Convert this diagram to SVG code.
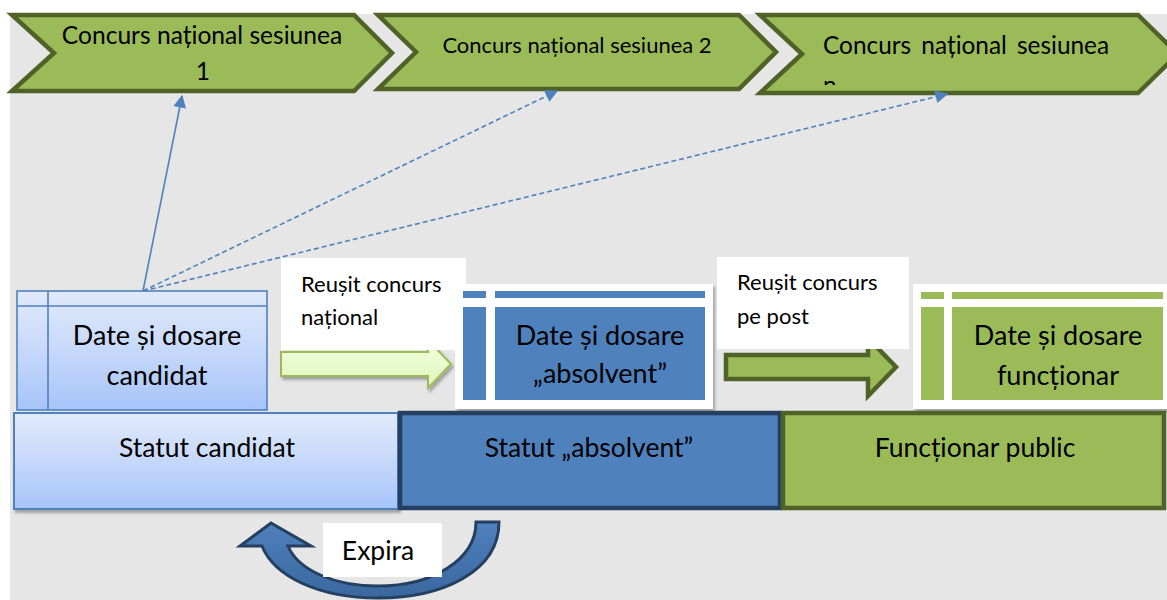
<svg xmlns="http://www.w3.org/2000/svg" width="1167" height="600" viewBox="0 0 1167 600">
  <style>
    .t { font-family: Lato, "Liberation Sans", sans-serif; fill: #000; }
    .chev { fill: #9bbb59; stroke: #4f6228; stroke-width: 4.5; stroke-linejoin: miter; }
    .link { stroke: #4f81bd; stroke-width: 1.6; fill: none; }
    .dash { stroke-dasharray: 5 3; }
    .label { fill: #ffffff; }
    .blue { fill: #4f81bd; }
    .green { fill: #9bbb59; }
  </style>
  <defs>
    <linearGradient id="paleBlue" x1="0" y1="0" x2="0" y2="1">
      <stop offset="0" stop-color="#e1eafb"/>
      <stop offset="0.5" stop-color="#c6d8fa"/>
      <stop offset="1" stop-color="#a6c4f9"/>
    </linearGradient>
    <linearGradient id="paleGreen" x1="0" y1="0" x2="0" y2="1">
      <stop offset="0" stop-color="#f3ffe3"/>
      <stop offset="1" stop-color="#dff5b8"/>
    </linearGradient>
    <linearGradient id="curl" x1="0" y1="0" x2="0" y2="1">
      <stop offset="0" stop-color="#4f81bd"/>
      <stop offset="1" stop-color="#3a679e"/>
    </linearGradient>
    <filter id="shadow" x="-10%" y="-10%" width="130%" height="130%">
      <feDropShadow dx="2" dy="3" stdDeviation="1.5" flood-color="#000" flood-opacity="0.3"/>
    </filter>
    <marker id="head" viewBox="0 0 10 10" refX="9" refY="5" markerWidth="8.5" markerHeight="8" orient="auto" markerUnits="strokeWidth">
      <path d="M0,0 L10,5 L0,10 Z" fill="#4f81bd"/>
    </marker>
    <clipPath id="clip3">
      <rect x="760" y="14" width="420" height="71"/>
    </clipPath>
  </defs>

  <!-- canvas -->
  <rect x="0" y="0" width="1167" height="600" fill="#ffffff"/>
  <rect x="10" y="14" width="1157" height="586" fill="#e6e6e6"/>

  <!-- session chevrons -->
  <g id="session1">
    <polygon class="chev" points="12,15 354,15 392,53 354,91 12,91 54,53"/>
    <text class="t" x="202" y="44" font-size="24.6" text-anchor="middle">Concurs național sesiunea</text>
    <text class="t" x="203" y="80" font-size="24.6" text-anchor="middle">1</text>
  </g>
  <g id="session2">
    <polygon class="chev" points="378,15 739,15 776,52 739,89 378,89 416,52"/>
    <text class="t" x="577" y="53" font-size="22" text-anchor="middle">Concurs național sesiunea 2</text>
  </g>
  <g id="session3">
    <polygon class="chev" points="760,15 1138,15 1178,54 1138,93 760,93 802,54"/>
    <text class="t" x="823" y="54" font-size="24.4" word-spacing="4">Concurs național sesiunea</text>
    <text class="t" x="823" y="94" font-size="24.4" clip-path="url(#clip3)">n</text>
  </g>

  <!-- connectors -->
  <g id="connectors">
    <line class="link" x1="143" y1="291" x2="182" y2="96" marker-end="url(#head)"/>
    <line class="link dash" x1="143" y1="291" x2="557" y2="91" marker-end="url(#head)"/>
    <line class="link dash" x1="143" y1="291" x2="947" y2="94" marker-end="url(#head)"/>
    <!-- transition arrows -->
    <polygon points="281,352 428,352 428,340 451,364 428,388 428,376 281,376" fill="url(#paleGreen)" stroke="#9bbb59" stroke-width="2" filter="url(#shadow)"/>
    <polygon points="726,355 868,355 868,338 896,367 868,396 868,379 726,379" fill="#9bbb59" stroke="#4f6228" stroke-width="4.5"/>
    <!-- expiry return arrow -->
    <path d="M 476,522 L 499,522 C 499,572 442,598 378,598 C 318,598 274,576 262,546 L 240,546 L 271,523 L 311,546 L 288,546 C 298,570 334,586 378,586 C 432,586 476,560 476,522 Z" fill="url(#curl)" stroke="#243f60" stroke-width="3" stroke-linejoin="miter"/>
  </g>

  <!-- candidate data -->
  <g id="dateCandidat">
    <rect x="17" y="291" width="250" height="119" fill="url(#paleBlue)" stroke="#4f81bd" stroke-width="1.6"/>
    <line x1="17" y1="306" x2="267" y2="306" stroke="#4f81bd" stroke-width="1.6"/>
    <line x1="48" y1="291" x2="48" y2="410" stroke="#4f81bd" stroke-width="1.6"/>
    <text class="t" x="157" y="345" font-size="27" text-anchor="middle">Date și dosare</text>
    <text class="t" x="157" y="385" font-size="27" text-anchor="middle">candidat</text>
  </g>

  <!-- label: national exam passed -->
  <g id="labelNational">
    <rect class="label" x="281" y="258" width="185" height="92"/>
    <text class="t" x="301" y="292" font-size="22">Reușit concurs</text>
    <text class="t" x="301" y="325" font-size="22">național</text>
  </g>

  <!-- graduate data -->
  <g id="dateAbsolvent">
    <rect x="455" y="284" width="258" height="125" fill="#ffffff" filter="url(#shadow)"/>
    <rect class="blue" x="463" y="291" width="23" height="7"/>
    <rect class="blue" x="495" y="291" width="210" height="7"/>
    <rect class="blue" x="463" y="307" width="23" height="93"/>
    <rect class="blue" x="495" y="307" width="210" height="93"/>
    <text class="t" x="600" y="345" font-size="27" text-anchor="middle">Date și dosare</text>
    <text class="t" x="600" y="383" font-size="27" text-anchor="middle">„absolvent”</text>
  </g>

  <!-- label: post exam passed -->
  <g id="labelPost">
    <rect class="label" x="717" y="257" width="192" height="92"/>
    <text class="t" x="737" y="290" font-size="22">Reușit concurs</text>
    <text class="t" x="737" y="324" font-size="22">pe post</text>
  </g>

  <!-- civil servant data -->
  <g id="dateFunctionar">
    <rect x="913" y="284" width="254" height="125" fill="#ffffff" filter="url(#shadow)"/>
    <rect class="green" x="921" y="292" width="23" height="7"/>
    <rect class="green" x="952" y="292" width="211" height="7"/>
    <rect class="green" x="921" y="307" width="23" height="93"/>
    <rect class="green" x="952" y="307" width="211" height="93"/>
    <text class="t" x="1058" y="345" font-size="27" text-anchor="middle">Date și dosare</text>
    <text class="t" x="1058" y="385" font-size="27" text-anchor="middle">funcționar</text>
  </g>

  <!-- status bands -->
  <g id="statutCandidat">
    <rect x="14" y="413" width="384" height="96" fill="url(#paleBlue)" stroke="#4f81bd" stroke-width="2" filter="url(#shadow)"/>
    <text class="t" x="207" y="457" font-size="26.5" text-anchor="middle">Statut candidat</text>
  </g>
  <g id="statutAbsolvent">
    <rect x="400" y="413" width="380" height="95" fill="#4f81bd" stroke="#243f60" stroke-width="4.5"/>
    <text class="t" x="589" y="457" font-size="26.5" text-anchor="middle">Statut „absolvent”</text>
  </g>
  <g id="functionarPublic">
    <rect x="783" y="413" width="381" height="95" fill="#9bbb59" stroke="#4f6228" stroke-width="4.5"/>
    <text class="t" x="975" y="457" font-size="26.5" text-anchor="middle">Funcționar public</text>
  </g>

  <!-- expiry label -->
  <g id="labelExpira">
    <rect class="label" x="323" y="523" width="119" height="54"/>
    <text class="t" x="378" y="560" font-size="26.5" text-anchor="middle">Expira</text>
  </g>
</svg>
